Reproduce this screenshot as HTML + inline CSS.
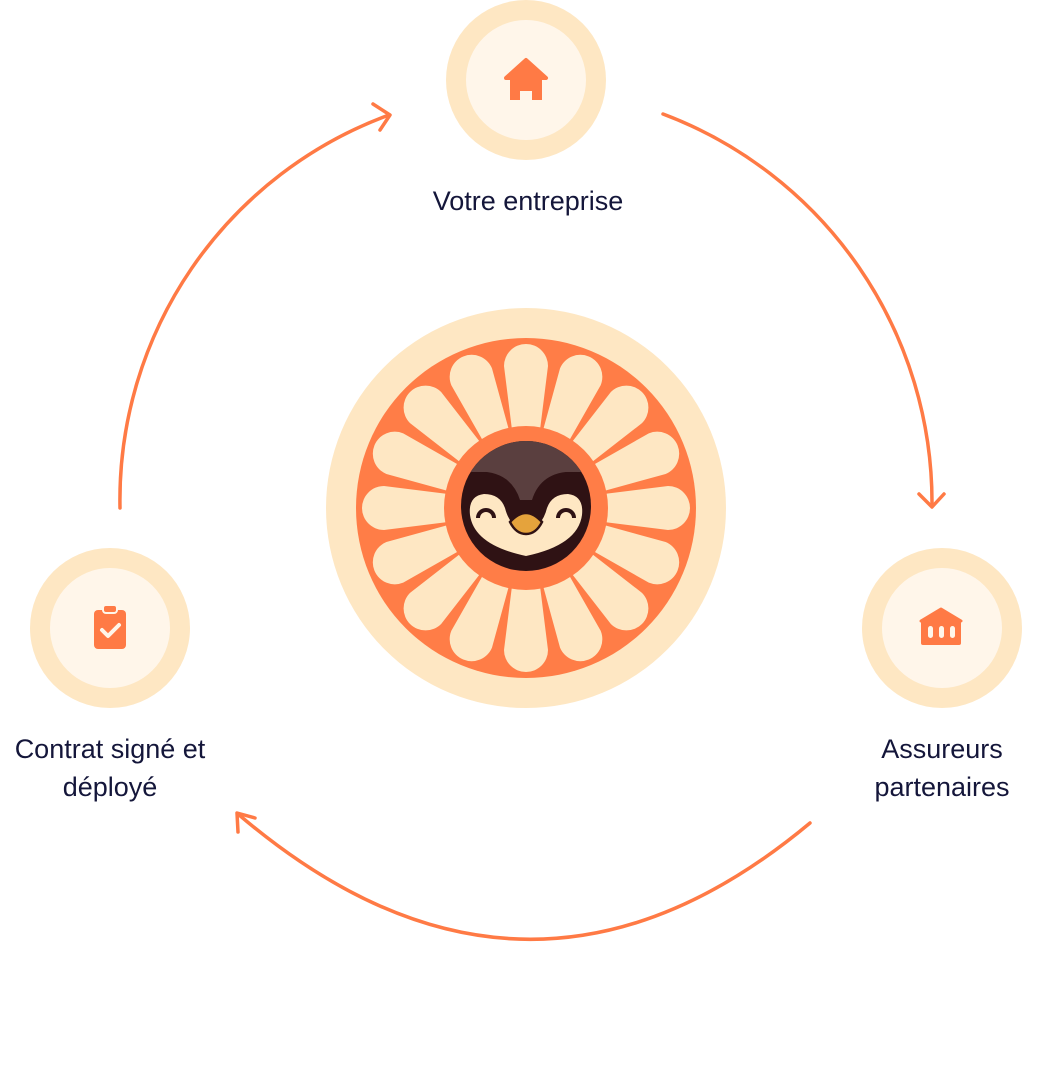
<!DOCTYPE html>
<html><head><meta charset="utf-8"><style>
html,body{margin:0;padding:0;background:#fff;}
body{width:1052px;height:1090px;position:relative;overflow:hidden;font-family:"Liberation Sans",sans-serif;}
.t{position:absolute;color:#14163a;font-size:27px;text-align:center;line-height:38px;}
</style></head><body>
<svg width="1052" height="1090" style="position:absolute;left:0;top:0">
<defs>
<clipPath id="pc"><circle cx="526" cy="506" r="65"/></clipPath>
</defs>
<g fill="none" stroke="#ff7a45" stroke-width="3.5" stroke-linecap="round" stroke-linejoin="round">
<path d="M120 508 A410 410 0 0 1 389 115"/>
<path d="M373 104 L390 115 L380 130"/>
<path d="M663 114 A415 415 0 0 1 932 505"/>
<path d="M919 494 L932 507 L944 494"/>
<path d="M810 823 Q526 1060 238 814"/>
<path d="M238 832 L237 813 L255 818"/>
</g>
<circle cx="526" cy="80" r="80" fill="#fee7c3"/><circle cx="526" cy="80" r="60" fill="#fff6ea"/>
<circle cx="110" cy="628" r="80" fill="#fee7c3"/><circle cx="110" cy="628" r="60" fill="#fff6ea"/>
<circle cx="942" cy="628" r="80" fill="#fee7c3"/><circle cx="942" cy="628" r="60" fill="#fff6ea"/>
<path d="M506 78 L526 60 L546 78 Z" fill="#ff7a45" stroke="#ff7a45" stroke-width="4" stroke-linejoin="round"/>
<path d="M510 76 H542 V100 H532 V91 H520 V100 H510 Z" fill="#ff7a45"/>
<rect x="94" y="610" width="32" height="39" rx="4" fill="#ff7a45"/>
<rect x="103" y="605" width="14" height="8" rx="3" fill="#ff7a45" stroke="#fff6ea" stroke-width="2"/>
<path d="M102 630 L108 636 L119 625" fill="none" stroke="#fff6ea" stroke-width="4" stroke-linecap="round" stroke-linejoin="round"/>
<path d="M921 621 L941 609 L961 621 Z" fill="#ff7a45" stroke="#ff7a45" stroke-width="3" stroke-linejoin="round"/>
<rect x="921" y="619" width="40" height="26" rx="2" fill="#ff7a45"/>
<rect x="928" y="626" width="5" height="12" rx="2.5" fill="#fff6ea"/>
<rect x="939" y="626" width="5" height="12" rx="2.5" fill="#fff6ea"/>
<rect x="950" y="626" width="5" height="12" rx="2.5" fill="#fff6ea"/>
<circle cx="526" cy="508" r="200" fill="#fee7c3"/>
<circle cx="526" cy="508" r="170" fill="#ff7d47"/>
<g fill="#fee7c3">
<path id="p" d="M512 430 L504 366 A22 22 0 1 1 548 366 L540 430 Q526 426 512 430 Z"/>
<use href="#p" transform="rotate(22.5 526 508)"/>
<use href="#p" transform="rotate(45 526 508)"/>
<use href="#p" transform="rotate(67.5 526 508)"/>
<use href="#p" transform="rotate(90 526 508)"/>
<use href="#p" transform="rotate(112.5 526 508)"/>
<use href="#p" transform="rotate(135 526 508)"/>
<use href="#p" transform="rotate(157.5 526 508)"/>
<use href="#p" transform="rotate(180 526 508)"/>
<use href="#p" transform="rotate(202.5 526 508)"/>
<use href="#p" transform="rotate(225 526 508)"/>
<use href="#p" transform="rotate(247.5 526 508)"/>
<use href="#p" transform="rotate(270 526 508)"/>
<use href="#p" transform="rotate(292.5 526 508)"/>
<use href="#p" transform="rotate(315 526 508)"/>
<use href="#p" transform="rotate(337.5 526 508)"/>
</g>
<circle cx="526" cy="508" r="82" fill="#ff7d47"/>
<circle cx="526" cy="506" r="65" fill="#2f1214"/>
<g clip-path="url(#pc)">
<rect x="450" y="430" width="160" height="42" fill="#5a3f3f"/>
<path d="M470 472 Q510 468 520 500 L532 500 Q542 468 582 472 Z" fill="#5a3f3f"/>
<path d="M470 515 Q468 496 484 494 Q500 494 505 508 Q510 528 526 530 Q542 528 547 508 Q552 494 568 494 Q584 496 582 515 Q578 545 526 556 Q474 545 470 515 Z" fill="#fee7c3"/>
</g>
<path d="M478 518 A8 8 0 0 1 494 518" fill="none" stroke="#2f1214" stroke-width="4"/>
<path d="M558 518 A8 8 0 0 1 574 518" fill="none" stroke="#2f1214" stroke-width="4"/>
<path d="M510 522 Q526 504 542 522 Q536 534 526 534 Q516 534 510 522Z" fill="#e5a33c" stroke="#2f1214" stroke-width="2.5"/>
</svg>
<div class="t" style="left:378px;top:182px;width:300px;">Votre entreprise</div>
<div class="t" style="left:-10px;top:730px;width:240px;">Contrat signé et<br>déployé</div>
<div class="t" style="left:832px;top:730px;width:220px;">Assureurs<br>partenaires</div>
</body></html>
